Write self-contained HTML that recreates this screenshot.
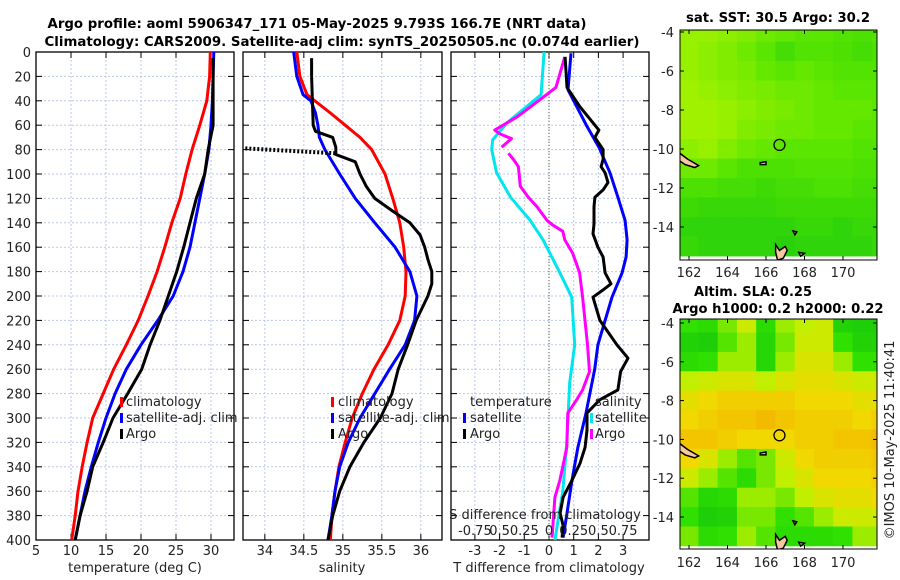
<!DOCTYPE html>
<html><head><meta charset="utf-8"><style>
html,body{margin:0;padding:0;background:#fff}
svg{display:block;font-family:"DejaVu Sans","Liberation Sans",sans-serif}
</style></head><body>
<svg id="fig" width="900" height="580" viewBox="0 0 900 580" xmlns="http://www.w3.org/2000/svg">
<text x="317" y="28" font-size="13" font-weight="bold" text-anchor="middle" textLength="539" lengthAdjust="spacingAndGlyphs">Argo profile: aoml 5906347_171 05-May-2025 9.793S 166.7E (NRT data)</text>
<text x="342" y="46" font-size="13" font-weight="bold" text-anchor="middle" textLength="595" lengthAdjust="spacingAndGlyphs">Climatology: CARS2009. Satellite-adj clim: synTS_20250505.nc (0.074d earlier)</text>
<text x="778" y="22" font-size="13" font-weight="bold" text-anchor="middle" textLength="184" lengthAdjust="spacingAndGlyphs">sat. SST: 30.5 Argo: 30.2</text>
<text x="753" y="296" font-size="13" font-weight="bold" text-anchor="middle" textLength="118" lengthAdjust="spacingAndGlyphs">Altim. SLA: 0.25</text>
<text x="778" y="313" font-size="13" font-weight="bold" text-anchor="middle" textLength="211" lengthAdjust="spacingAndGlyphs">Argo h1000: 0.2 h2000: 0.22</text>
<text transform="translate(894,440) rotate(-90)" font-size="13" text-anchor="middle" fill="#222">©IMOS 10-May-2025 11:40:41</text>
</svg>
<script>
// ---------- data ----------
const tDepth = [0,20,40,60,80,100,120,140,160,180,200,220,240,260,280,300,320,340,360,380,400];
const tClim = [29.9,29.8,29.4,28.4,27.3,26.4,25.6,24.4,23.4,22.3,21.0,19.6,17.9,16.1,14.6,13.1,12.3,11.6,11.0,10.6,10.1];
const tSat = [30.4,30.3,30.2,30.0,29.7,29.1,28.4,27.7,27.0,26.0,24.6,22.4,20.0,17.9,16.3,15.0,13.9,12.9,12.0,11.3,10.6];
const argoDepth = [5,60,80,100,120,140,160,180,200,220,240,260,280,300,320,340,360,380,400];
const tArgo = [30.3,30.3,29.6,29.1,27.9,27.0,26.1,25.1,23.9,22.7,21.3,20.1,18.1,16.0,14.6,13.1,12.3,11.3,10.6];
const sDepth = [0,20,35,40,50,60,70,80,100,120,140,160,180,200,220,240,260,280,300,320,340,360,380,400];
const sClim = [34.41,34.45,34.54,34.64,34.84,35.03,35.22,35.37,35.54,35.64,35.73,35.78,35.81,35.80,35.73,35.58,35.40,35.25,35.12,35.03,34.95,34.90,34.86,34.84];
const sSat = [34.37,34.41,34.49,34.59,34.65,34.68,34.70,34.77,34.96,35.16,35.41,35.67,35.86,35.95,35.92,35.80,35.60,35.41,35.22,35.07,34.96,34.90,34.86,34.81];
const sArgoDepth = [5,20,40,60,65,70,78,84,90,100,110,120,130,140,150,160,170,180,190,200,220,240,260,280,300,320,340,360,380,400];
const sArgo = [34.60,34.60,34.61,34.62,34.65,34.87,34.91,34.91,35.16,35.22,35.30,35.41,35.63,35.86,35.99,36.05,36.09,36.14,36.14,36.09,35.94,35.83,35.71,35.63,35.48,35.27,35.09,34.96,34.87,34.81];
const sSpikeDepth = [79,83];
const sSpike = [33.75,34.91];
const dTSatDepth = [1,31,45,61,78,99,119,138,154,168,181,201,220,240,260,296,324,351,378,398];
const dTSat = [0.89,0.77,1.13,1.54,2.02,2.47,2.79,3.08,3.16,3.12,2.96,2.55,2.27,1.98,1.85,1.50,1.17,0.93,0.73,0.57];
const dTArgoDepth = [4,29,45,58,64,70,80,88,94,99,107,113,119,127,141,149,160,168,181,190,195,201,220,240,251,262,277,285,296,310,324,337,351,365,378,388,398];
const dTArgo = [0.65,0.73,1.26,1.78,2.02,1.86,2.19,2.19,2.11,2.27,2.39,2.19,1.86,1.82,1.82,1.78,1.98,2.19,2.27,2.51,2.19,1.78,2.06,2.75,3.2,2.9,2.79,2.06,1.54,1.54,1.46,1.26,0.93,0.57,0.45,0.57,0.53];
const dSSatDepth = [0,35,58,72,80,99,119,138,154,181,201,240,271,320,360,400];
const dSSat = [-0.05,-0.08,-0.425,-0.57,-0.58,-0.53,-0.39,-0.19,-0.06,0.11,0.23,0.26,0.21,0.18,0.14,0.06];
const dSArgoDepth = [4,29,39,53,64,67,71,78,80,83,88,94,110,119,127,138,142,147,154,165,181,201,240,262,277,285,296,324,351,365,398];
const dSArgo = [0.16,0.07,-0.09,-0.32,-0.55,-0.5,-0.38,-0.48,null,-0.41,-0.36,-0.31,-0.29,-0.21,-0.12,-0.02,0.04,0.14,0.16,0.24,0.31,0.34,0.39,0.41,0.34,0.28,0.19,0.18,0.11,0.06,0.03];
const depthTicks = [0,20,40,60,80,100,120,140,160,180,200,220,240,260,280,300,320,340,360,380,400];
const tTicks = [5,10,15,20,25,30];
const sTicks = [34,34.5,35,35.5,36];
const dTTicks = [-3,-2,-1,0,1,2,3];
const dSTickLabels = ["-0.75","0.5","0.25","0","0.25","0.5","0.75"];
const lonTicks = [162,164,166,168,170];
const latTicks = [-4,-6,-8,-10,-12,-14];
const sstGrid = [
[0.8,0.8,0.75,0.7,0.6,0.55,0.5,0.5,0.45,0.4,0.45],
[0.8,0.75,0.7,0.6,0.5,0.35,0.45,0.45,0.4,0.35,0.4],
[0.8,0.75,0.7,0.65,0.55,0.5,0.55,0.5,0.45,0.45,0.45],
[0.85,0.8,0.75,0.7,0.65,0.6,0.6,0.55,0.5,0.5,0.5],
[0.85,0.85,0.8,0.75,0.7,0.65,0.6,0.55,0.55,0.55,0.5],
[0.85,0.85,0.8,0.7,0.65,0.6,0.6,0.55,0.55,0.5,0.5],
[0.75,0.8,0.7,0.6,0.55,0.5,0.5,0.5,0.5,0.45,0.45],
[0.6,0.6,0.5,0.4,0.4,0.4,0.45,0.45,0.45,0.4,0.4],
[0.4,0.4,0.35,0.35,0.3,0.35,0.35,0.4,0.4,0.35,0.35],
[0.3,0.25,0.25,0.25,0.25,0.3,0.3,0.3,0.3,0.3,0.3],
[0.2,0.2,0.2,0.2,0.2,0.2,0.25,0.25,0.2,0.25,0.25],
[0.25,0.2,0.2,0.2,0.2,0.15,0.2,0.2,0.2,0.2,0.25]];
const slaGrid = [
[0.35,0.3,0.45,0.6,0.3,0.5,0.55,0.6,0.2,0.15,0.15],
[0.2,0.15,0.4,0.5,0.25,0.45,0.6,0.6,0.35,0.2,0.2],
[0.3,0.35,0.5,0.5,0.25,0.5,0.65,0.65,0.5,0.35,0.35],
[0.55,0.6,0.65,0.65,0.55,0.65,0.7,0.7,0.65,0.6,0.6],
[0.7,0.75,0.8,0.8,0.8,0.8,0.75,0.75,0.75,0.7,0.7],
[0.75,0.8,0.85,0.85,0.9,0.85,0.8,0.8,0.8,0.75,0.8],
[0.85,0.85,0.8,0.75,0.75,0.75,0.8,0.8,0.85,0.85,0.9],
[0.75,0.65,0.5,0.4,0.45,0.6,0.75,0.8,0.8,0.8,0.85],
[0.6,0.5,0.4,0.3,0.45,0.55,0.65,0.75,0.75,0.75,0.8],
[0.4,0.25,0.3,0.5,0.5,0.45,0.55,0.65,0.7,0.7,0.75],
[0.35,0.15,0.2,0.45,0.45,0.35,0.4,0.5,0.6,0.6,0.6],
[0.45,0.3,0.35,0.5,0.4,0.3,0.3,0.3,0.35,0.5,0.5]];

// ---------- helpers ----------
const NS="http://www.w3.org/2000/svg";
const svg=document.getElementById('fig');
function mk(tag,attrs,parent){const e=document.createElementNS(NS,tag);for(const k in attrs)e.setAttribute(k,attrs[k]);(parent||svg).appendChild(e);return e;}
const Y0=52,Y1=540;
const yD=d=>Y0+(d/400)*(Y1-Y0);
function panel(x0,x1,xmin,xmax){return {x0,x1,sx:v=>x0+(v-xmin)/(xmax-xmin)*(x1-x0)};}
const P1=panel(36,234,5,5+198/7);
const P2=panel(243,442,33.72,33.72+199/78);
const P3=panel(451,649,-98/24.7,100/24.7);

function frame(P,ticks,labels,name,withYLabels){
  const g=mk('g',{});
  
  
  depthTicks.forEach(d=>{
    const y=yD(d);
    const gl=mk('line',{x1:P.x0,x2:P.x1,y1:y,y2:y,stroke:'#bcc6ee','stroke-width':1,'stroke-dasharray':'2,2'},g);
    
    
    mk('line',{x1:P.x0,x2:P.x0+6,y1:y,y2:y,stroke:'#000'},g);
    mk('line',{x1:P.x1-6,x2:P.x1,y1:y,y2:y,stroke:'#000'},g);
    if(withYLabels){
      const t=mk('text',{x:P.x0-5,y:y+5,'font-size':13,'text-anchor':'end',fill:'#222'},g);
      t.textContent=d;
      
      
    }
  });
  ticks.forEach((v,i)=>{
    const x=P.sx(v);
    const gl=mk('line',{x1:x,x2:x,y1:Y0,y2:Y1,stroke:'#bcc6ee','stroke-width':1,'stroke-dasharray':'2,2'},g);
    
    
    mk('line',{x1:x,x2:x,y1:Y1-6,y2:Y1,stroke:'#000'},g);
    mk('line',{x1:x,x2:x,y1:Y0,y2:Y0+6,stroke:'#000'},g);
    const t=mk('text',{x:x,y:555,'font-size':13,'text-anchor':'middle',fill:'#222'},g);
    t.textContent=labels[i];
    
    
  });
  const r=mk('rect',{x:P.x0,y:Y0,width:P.x1-P.x0,height:Y1-Y0,fill:'none',stroke:'#000','stroke-width':1.3},g);
  
  
}
function line(P,xs,ds,color,name,extra){
  let d='',pen=false;
  xs.forEach((v,i)=>{
    if(v===null){pen=false;return;}
    d+=(pen?'L':'M')+P.sx(v).toFixed(1)+','+yD(ds[i]).toFixed(1);pen=true;
  });
  const p=mk('path',Object.assign({d:d,fill:'none',stroke:color,'stroke-width':3,'stroke-linejoin':'round'},extra||{}));
  
  
}
function txt(x,y,s,name,opts){
  const t=mk('text',Object.assign({x:x,y:y,'font-size':13,fill:'#222'},opts||{}));
  t.textContent=s;
  
  
  return t;
}
function mark(x,y,color,name){
  const r=mk('rect',{x:x,y:y-10,width:3,height:10,fill:color});
  
  
}

// ---------- panel 1 ----------
frame(P1,tTicks,tTicks.map(String),'temperature-axes',true);
line(P1,tClim,tDepth,'#f00','temperature-climatology-line');
line(P1,tSat,tDepth,'#00f','temperature-satellite-line');
line(P1,tArgo,argoDepth,'#000','temperature-argo-line');
txt(135,572,'temperature (deg C)','temperature-axis-title',{'text-anchor':'middle'});
mark(120,407,'#f00','legend-climatology-marker');txt(126,406,'climatology','legend-climatology');
mark(120,423,'#00f','legend-satellite-marker');txt(126,422,'satellite-adj. clim','legend-satellite');
mark(120,439,'#000','legend-argo-marker');txt(126,438,'Argo','legend-argo');

// ---------- panel 2 ----------
frame(P2,sTicks,sTicks.map(String),'salinity-axes',false);
line(P2,sClim,sDepth,'#f00','salinity-climatology-line');
line(P2,sSat,sDepth,'#00f','salinity-satellite-line');
line(P2,sArgo,sArgoDepth,'#000','salinity-argo-line');
line(P2,sSpike,sSpikeDepth,'#000','salinity-argo-spike',{'stroke-dasharray':'2,2','stroke-width':4});
txt(342,572,'salinity','salinity-axis-title',{'text-anchor':'middle'});
mark(331,407,'#f00','legend-s-climatology-marker');txt(338,406,'climatology','legend-s-climatology');
mark(331,423,'#00f','legend-s-satellite-marker');txt(338,422,'satellite-adj. clim','legend-s-satellite');
mark(331,439,'#000','legend-s-argo-marker');txt(338,438,'Argo','legend-s-argo');

// ---------- panel 3 ----------
frame(P3,dTTicks,dTTicks.map(String),'difference-axes',false);
{const z=P3.sx(0);const l=mk('line',{x1:z,x2:z,y1:Y0,y2:Y1,stroke:'#556b2f','stroke-width':1,'stroke-dasharray':'1,2'});

}
line(P3,dSSat.map(v=>v*4),dSSatDepth,'#00e5ee','s-diff-satellite-line');
line(P3,dSArgo.map(v=>v===null?null:v*4),dSArgoDepth,'#f0f','s-diff-argo-line');
line(P3,dTSat,dTSatDepth,'#00f','t-diff-satellite-line');
line(P3,dTArgo,dTArgoDepth,'#000','t-diff-argo-line');
txt(549,572,'T difference from climatology','t-diff-axis-title',{'text-anchor':'middle'});
txt(545,519,'S difference from climatology','s-diff-axis-title',{'text-anchor':'middle'});
dTTicks.forEach((v,i)=>{txt(P3.sx(v),535,dSTickLabels[i],'s-diff-tick-label',{'text-anchor':'middle'});});
txt(470,406,'temperature','legend-temperature-header');
mark(463,423,'#00f','legend-t-satellite-marker');txt(470,422,'satellite','legend-t-satellite');
mark(463,439,'#000','legend-t-argo-marker');txt(470,438,'Argo','legend-t-argo');
txt(595,406,'salinity','legend-salinity-header');
mark(590,423,'#00e5ee','legend-s-satellite-diff-marker');txt(595,422,'satellite','legend-s-satellite-diff');
mark(590,439,'#f0f','legend-s-argo-diff-marker');txt(595,438,'Argo','legend-s-argo-diff');

// ---------- maps ----------
function lerpColor(stops,v){
  for(let i=0;i<stops.length-1;i++){
    const [a,ca]=stops[i],[b,cb]=stops[i+1];
    if(v<=b||i===stops.length-2){const t=Math.max(0,Math.min(1,(v-a)/(b-a)));
      const c=ca.map((x,k)=>Math.round(x+(cb[k]-x)*t));return `rgb(${c[0]},${c[1]},${c[2]})`;}
  }
}
const sstStops=[[0,[20,200,16]],[0.5,[90,230,0]],[1,[190,246,0]]];
const slaStops=[[0,[16,192,16]],[0.35,[48,224,0]],[0.55,[192,240,0]],[0.75,[240,216,0]],[1,[245,168,0]]];
function drawMap(grid,stops,y0,y1,latTopY,pxPerLat,name,lonLabelY){
  const X0=680,X1=877;
  const sx=lon=>689+(lon-162)*19.25;
  const sy=lat=>latTopY+(-4-lat)*pxPerLat;
  const g=mk('g',{});
  
  
  const cid=name+'-clip';
  const cp=mk('clipPath',{id:cid},g);mk('rect',{x:X0,y:y0,width:X1-X0,height:y1-y0},cp);
  const cg=mk('g',{'clip-path':`url(#${cid})`},g);
  grid.forEach((row,r)=>row.forEach((v,c)=>{
    const lat=-3.5-r, lon=161.5+c;
    const cell=mk('rect',{x:sx(lon)-0.2,y:sy(lat)-0.2,width:19.65,height:pxPerLat+0.4,fill:lerpColor(stops,v)},cg);
    
    
  }));
  if(sy(-15.5)+pxPerLat<y1) mk('rect',{x:X0,y:sy(-15.5)+pxPerLat,width:X1-X0,height:5,fill:'#fff'},cg);
  const isl=[[[161.5,-10.2],[161.9,-10.5],[162.5,-10.85],[162.3,-10.95],[161.8,-10.8],[161.5,-10.6]],
             [[166.5,-14.9],[166.7,-15.2],[167.0,-15.0],[167.1,-15.2],[166.9,-15.6],[166.6,-15.7],[166.5,-15.3]],
             [[165.7,-10.7],[166.0,-10.65],[166.0,-10.8],[165.7,-10.8]],
             [[167.4,-14.2],[167.6,-14.25],[167.5,-14.4]],[[167.7,-15.3],[168.0,-15.35],[167.8,-15.5]]];
  isl.forEach(poly=>{
    const p=mk('polygon',{points:poly.map(q=>sx(q[0])+','+sy(q[1])).join(' '),fill:'#f7c8a0',stroke:'#000','stroke-width':1.5},cg);
    
    
  });
  const ci=mk('circle',{cx:sx(166.7),cy:sy(-9.79),r:5.5,fill:'none',stroke:'#000','stroke-width':1.3},g);
  
  
  mk('rect',{x:X0,y:y0,width:X1-X0,height:y1-y0,fill:'none',stroke:'#000','stroke-width':1},g);
  latTicks.forEach(l=>{const y=sy(l);
    mk('line',{x1:X0,x2:X0+4,y1:y,y2:y,stroke:'#000'},g);mk('line',{x1:X1-4,x2:X1,y1:y,y2:y,stroke:'#000'},g);
    txt(674,y+5,String(l),'lat-tick-label',{'text-anchor':'end'});});
  lonTicks.forEach(l=>{const x=sx(l);
    mk('line',{x1:x,x2:x,y1:y1-4,y2:y1,stroke:'#000'},g);mk('line',{x1:x,x2:x,y1:y0,y2:y0+4,stroke:'#000'},g);
    txt(x,lonLabelY,String(l),'lon-tick-label',{'text-anchor':'middle'});});
}
drawMap(sstGrid,sstStops,30,260,32,19.5,'sst-map',277);
drawMap(slaGrid,slaStops,319,549,323,19.4,'sla-map',567);
</script>
</body></html>
